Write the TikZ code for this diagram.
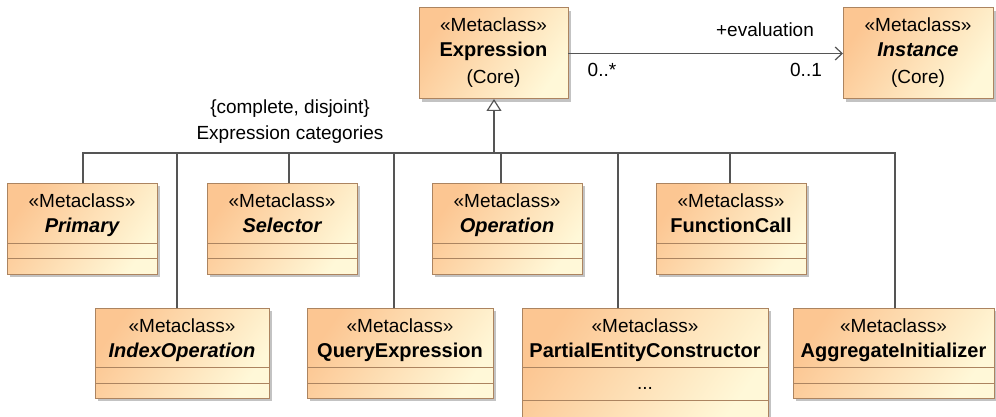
\documentclass[tikz,border=0pt]{standalone}
\usepackage{fontspec}
\setmainfont{Liberation Sans}
\usetikzlibrary{arrows.meta,shadows}
\definecolor{boxborder}{RGB}{172,132,96}
\definecolor{fillA}{RGB}{252,198,146}
\definecolor{fillB}{RGB}{255,248,216}
\definecolor{linegray}{RGB}{85,85,85}
\definecolor{shadowgray}{RGB}{195,195,195}
\newcommand\mclass[7]{%
  \node[classbox, minimum width=#4pt, minimum height=#5pt] (#1) at (#2,#3) {};
  \node[stereo] (#1-st) at ([yshift=-24pt]#1.north) {«Metaclass»};
  \node[#6] (#1-nm) at ([yshift=-49pt]#1.north) {#7};
}
\newcommand\mcomp[2]{\draw[sepline] ([yshift=-#2pt]#1.north west) -- ([yshift=-#2pt]#1.north east);}
\begin{document}
\begin{tikzpicture}[x=1pt,y=-1pt,
  classbox/.style={draw=boxborder, line width=1pt, left color=fillA, right color=fillB,
    shading angle=55, inner sep=0pt, outer sep=0pt, anchor=north west,
    drop shadow={shadow xshift=3pt, shadow yshift=-3pt, fill=shadowgray, opacity=1}},
  sepline/.style={draw=boxborder, line width=1pt},
  stereo/.style={anchor=base, inner sep=0pt, font=\fontsize{19}{22}\selectfont},
  cname/.style={anchor=base, inner sep=0pt, font=\fontsize{20}{24}\selectfont\bfseries},
  aname/.style={anchor=base, inner sep=0pt, font=\fontsize{20}{24}\selectfont\bfseries\itshape},
  lbl/.style={anchor=base, inner sep=0pt, font=\fontsize{19}{22}\selectfont},
  gen/.style={draw=linegray, line width=1.2pt},
  assoc/.style={draw=linegray, line width=1.2pt}]
\useasboundingbox (0,0) rectangle (996,417);
\fill[white] (0,0) rectangle (996,417);
\clip (0,0) rectangle (996,417);

% top classes
\mclass{expr}{419}{8}{149}{91}{cname}{Expression}
\node[lbl] (expr-core) at ([yshift=-76pt]expr.north) {(Core)};
\mclass{inst}{843}{8}{150}{91}{aname}{Instance}
\node[lbl] (inst-core) at ([yshift=-76pt]inst.north) {(Core)};

% first row
\mclass{primary}{7}{183}{150}{91}{aname}{Primary}
\mcomp{primary}{60}\mcomp{primary}{75}
\mclass{selector}{207}{183}{150}{91}{aname}{Selector}
\mcomp{selector}{60}\mcomp{selector}{75}
\mclass{operation}{432}{183}{150}{91}{aname}{Operation}
\mcomp{operation}{60}\mcomp{operation}{75}
\mclass{funcall}{656}{183}{150}{91}{cname}{FunctionCall}
\mcomp{funcall}{60}\mcomp{funcall}{75}

% second row
\mclass{indexop}{95}{308}{174}{90}{aname}{IndexOperation}
\mcomp{indexop}{59}\mcomp{indexop}{75}
\mclass{query}{307}{308}{186}{90}{cname}{QueryExpression}
\mcomp{query}{59}\mcomp{query}{75}
\mclass{pec}{522}{308}{246}{114}{cname}{PartialEntityConstructor}
\mcomp{pec}{59}\mcomp{pec}{92}
\node[lbl] (pec-dots) at ([yshift=-81pt]pec.north) {...};
\mclass{agg}{793}{308}{201}{90}{cname}{AggregateInitializer}
\mcomp{agg}{59}\mcomp{agg}{75}

% generalization tree
\coordinate (bus) at (494,153);
\foreach \n/\x in {primary/83, selector/289, operation/501, funcall/730,
                   indexop/177, query/394, pec/618, agg/895}
  \draw[gen] (\x,0 |- \n.north) |- (bus);
\draw[gen, -{Triangle[open, length=12pt, width=15pt]}] (bus) -- (bus |- expr.south);
\node[lbl] (gset1) at (290,114) {\{complete, disjoint\}};
\node[lbl] (gset2) at (290,140) {Expression categories};

% association
\draw[assoc, -{Straight Barb[length=7pt, width=13pt]}] (expr.east) -- (inst.west);
\node[lbl] (role) at (765,37) {+evaluation};
\node[lbl] (mulA) at (602,77) {0..*};
\node[lbl] (mulB) at (806,77) {0..1};
\end{tikzpicture}
\end{document}
